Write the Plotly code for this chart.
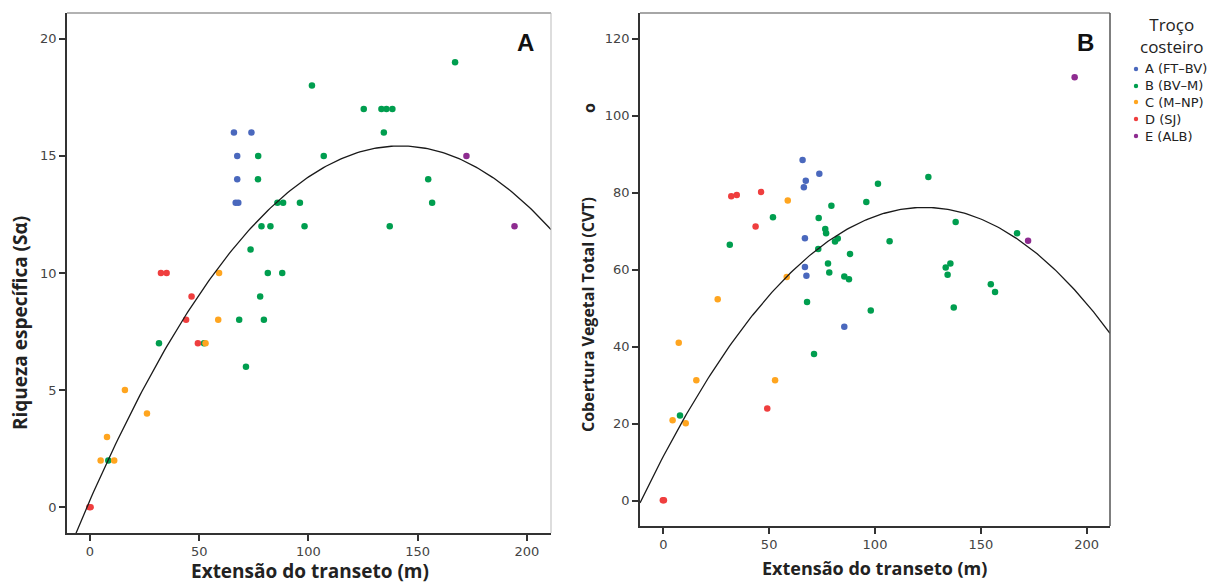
import plotly.graph_objects as go

# the page body has an 8px margin; the figure is sized to fill the rest of the window
OFF = 8
W, H = 1219 - OFF, 586 - OFF

groups = ["A (FT–BV)", "B (BV–M)", "C (M–NP)", "D (SJ)", "E (ALB)"]
colors = ["#4a68bd", "#009e4f", "#ffa51f", "#ef3e3e", "#8e2c90"]

# Panel A: Riqueza específica vs Extensão do transeto
rich_x = {
    "A": [65.9, 73.9, 67.4, 67.4, 66.7, 67.9],
    "B": [77.0, 76.9, 85.8, 88.4, 96.1, 78.5, 82.6, 98.2, 73.5, 81.4, 88.0, 77.9, 68.3, 79.6,
          31.6, 52.2, 71.4, 8.4, 167.1, 101.6, 125.3, 133.4, 135.7, 138.4, 134.5, 107.0, 154.8,
          156.6, 137.2],
    "C": [59.1, 58.7, 52.9, 16.0, 26.1, 7.8, 4.9, 11.1],
    "D": [32.5, 35.1, 46.5, 44.0, 49.4, -0.3, 0.3],
    "E": [172.3, 194.3],
}
rich_y = {
    "A": [16, 16, 15, 14, 13, 13],
    "B": [15, 14, 13, 13, 13, 12, 12, 12, 11, 10, 10, 9, 8, 8,
          7, 7, 6, 2, 19, 18, 17, 17, 17, 17, 16, 15, 14,
          13, 12],
    "C": [10, 8, 7, 5, 4, 3, 2, 2],
    "D": [10, 10, 9, 8, 7, 0, 0],
    "E": [15, 12],
}

# Panel B: Cobertura Vegetal Total vs Extensão do transeto
cvt_x = {
    "A": [65.8, 67.3, 66.4, 73.7, 66.9, 66.9, 67.6, 85.5],
    "B": [101.4, 95.9, 79.4, 73.4, 76.5, 76.9, 82.4, 81.1, 73.2, 106.9, 88.2, 77.8, 78.4, 85.5,
          87.7, 67.9, 98.0, 138.1, 167.1, 133.4, 135.6, 134.3, 154.7, 156.7, 137.2, 125.2,
          51.8, 31.4, 71.2, 7.9],
    "C": [58.8, 58.3, 25.7, 7.3, 15.6, 52.8, 4.4, 10.6],
    "D": [32.1, 34.7, 46.2, 43.6, 49.1, -0.2, 0.3],
    "E": [194.3, 172.3],
}
cvt_y = {
    "A": [88.5, 83.1, 81.4, 84.9, 68.2, 60.7, 58.4, 45.2],
    "B": [82.3, 77.6, 76.6, 73.4, 70.6, 69.5, 68.1, 67.3, 65.4, 67.4, 64.1, 61.6, 59.3, 58.2,
          57.5, 51.6, 49.4, 72.4, 69.5, 60.6, 61.6, 58.7, 56.2, 54.2, 50.2, 84.1,
          73.6, 66.5, 38.1, 22.1],
    "C": [78.0, 58.1, 52.3, 41.0, 31.3, 31.3, 20.9, 20.1],
    "D": [79.1, 79.4, 80.2, 71.2, 23.9, 0.1, 0.1],
    "E": [110.0, 67.5],
}

# quadratic fit coefficients (c0, c1, c2)
fit_rich = (0.30, 0.213, -0.00075)
fit_cvt = (11.47, 1.0495, -0.004255)

keys = ["A", "B", "C", "D", "E"]


def fx(px):
    return (px - OFF) / W


def fy(py):
    return 1 - (py - OFF) / H


fig = go.Figure()
for i, k in enumerate(keys):
    fig.add_trace(go.Scatter(x=rich_x[k], y=rich_y[k], mode="markers", name=groups[i],
                             marker=dict(color=colors[i], size=6.5),
                             xaxis="x", yaxis="y"))
for i, k in enumerate(keys):
    fig.add_trace(go.Scatter(x=cvt_x[k], y=cvt_y[k], mode="markers", name=groups[i],
                             marker=dict(color=colors[i], size=6.5),
                             xaxis="x2", yaxis="y2"))

x1r = [-10.5, 211]
x2r = [-11, 211]
n = 200
xs1 = [x1r[0] + (x1r[1] - x1r[0]) * j / n for j in range(n + 1)]
xs2 = [x2r[0] + (x2r[1] - x2r[0]) * j / n for j in range(n + 1)]
ys1 = [fit_rich[0] + fit_rich[1] * v + fit_rich[2] * v * v for v in xs1]
ys2 = [fit_cvt[0] + fit_cvt[1] * v + fit_cvt[2] * v * v for v in xs2]
fig.add_trace(go.Scatter(x=xs1, y=ys1, mode="lines", line=dict(color="#1a1a1a", width=1.3),
                         hoverinfo="skip", xaxis="x", yaxis="y"))
fig.add_trace(go.Scatter(x=xs2, y=ys2, mode="lines", line=dict(color="#1a1a1a", width=1.3),
                         hoverinfo="skip", xaxis="x2", yaxis="y2"))

L1 = [fx(67), fx(551)]
L2 = [fx(640), fx(1110)]
D1 = [fy(533), fy(13)]
D2 = [fy(526), fy(13)]

tickfont = dict(family="DejaVu Sans", size=13, color="#444")
axcommon = dict(showgrid=False, zeroline=False, showline=True, linecolor="#333", linewidth=1.5,
                ticks="outside", ticklen=6, tickwidth=1.5, tickcolor="#333", tickfont=tickfont)

fig.update_layout(
    width=W, height=H,
    margin=dict(l=0, r=0, t=0, b=0),
    paper_bgcolor="white", plot_bgcolor="white",
    showlegend=False,
    xaxis=dict(domain=L1, range=x1r, tickvals=[0, 50, 100, 150, 200], anchor="y", **axcommon),
    yaxis=dict(domain=D1, range=[-1.1, 21.1], tickvals=[0, 5, 10, 15, 20], anchor="x", **axcommon),
    xaxis2=dict(domain=L2, range=x2r, tickvals=[0, 50, 100, 150, 200], anchor="y2", **axcommon),
    yaxis2=dict(domain=D2, range=[-6.6, 126.7], tickvals=[0, 20, 40, 60, 80, 100, 120],
                anchor="x2", **axcommon),
)

# frame lines (top and right)
fig.add_shape(type="line", xref="paper", yref="paper", x0=L1[0], x1=L1[1], y0=D1[1], y1=D1[1],
              line=dict(color="#999", width=1.5))
fig.add_shape(type="line", xref="paper", yref="paper", x0=L1[1], x1=L1[1], y0=D1[0], y1=D1[1],
              line=dict(color="#bbb", width=1))
fig.add_shape(type="line", xref="paper", yref="paper", x0=L2[0], x1=L2[1], y0=D2[1], y1=D2[1],
              line=dict(color="#888", width=1.5))
fig.add_shape(type="line", xref="paper", yref="paper", x0=L2[1], x1=L2[1], y0=D2[0], y1=D2[1],
              line=dict(color="#555", width=1.5))


def bold(size):
    return dict(family="Open Sans", size=size, color="#222", weight="bold")


ann = [
    dict(text="Extensão do transeto (m)", x=310, y=586, ya="bottom", ang=0, f=bold(19)),
    dict(text="Extensão do transeto (m)", x=875, y=568, ya="middle", ang=0, f=bold(18)),
    dict(text="Riqueza específica (Sα)", x=20, y=323, ya="middle", ang=-90, f=bold(19)),
    dict(text="Cobertura Vegetal Total (CVT)", x=588, y=315, ya="middle", ang=-90, f=bold(16)),
    dict(text="o", x=589, y=108, ya="middle", ang=-90, f=bold(16)),
]
for a in ann:
    fig.add_annotation(text=a["text"], x=fx(a["x"]), y=fy(a["y"]), xref="paper", yref="paper",
                       showarrow=False, textangle=a["ang"], font=a["f"],
                       xanchor="center", yanchor=a["ya"])

for txt, px in [("A", 525), ("B", 1085)]:
    fig.add_annotation(text=txt, x=fx(px), y=fy(42), xref="paper", yref="paper",
                       showarrow=False, xanchor="center", yanchor="middle",
                       font=dict(family="Liberation Sans", size=24, color="#111", weight="bold"))

# manual legend
fig.add_annotation(text="Troço<br>costeiro", x=fx(1172), y=fy(36), xref="paper",
                   yref="paper", showarrow=False, xanchor="center", yanchor="middle",
                   font=dict(family="Open Sans", size=17, color="#222"))
row_y = [69, 86, 102, 119, 136]
for i, g in enumerate(groups):
    yy = fy(row_y[i])
    r = 2.2
    fig.add_shape(type="circle", xref="paper", yref="paper",
                  x0=fx(1136 - r), x1=fx(1136 + r), y0=yy - r / H, y1=yy + r / H,
                  fillcolor=colors[i], line=dict(width=0))
fig.add_annotation(text="<br>".join(groups), x=fx(1144), y=fy((row_y[0] + row_y[-1]) / 2),
                   xref="paper", yref="paper", showarrow=False, xanchor="left",
                   yanchor="middle", align="left", borderpad=0,
                   font=dict(family="DejaVu Sans", size=13, color="#222"))

fig.write_html("out.html")
